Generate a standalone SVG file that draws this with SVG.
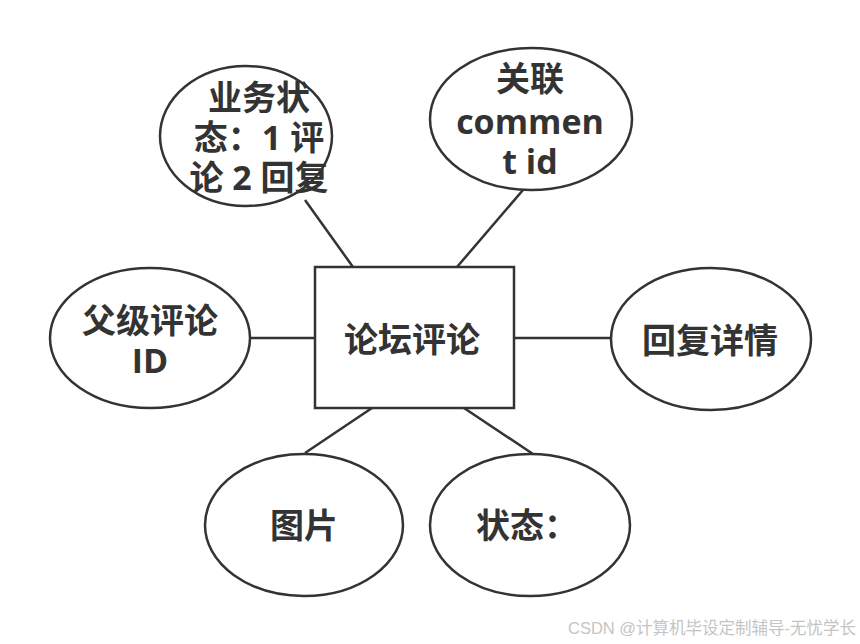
<svg xmlns="http://www.w3.org/2000/svg" width="860" height="644" viewBox="0 0 860 644">
<style>
.s{fill:#fff;stroke:#333;stroke-width:2.5}
.t{font-family:"Open Sans","Noto Sans CJK SC",sans-serif;font-weight:bold;font-size:34px;fill:#333;text-anchor:middle;dominant-baseline:central}
.c{stroke:#333;stroke-width:2.5;fill:none}
.w{font-family:"Liberation Sans","Noto Sans CJK SC",sans-serif;font-size:16.5px;fill:#c4c4c4}
</style>
<rect width="860" height="644" fill="#fff"/>
<g id="connectors">
<line class="c" x1="305" y1="200" x2="353" y2="267"/>
<line class="c" x1="523" y1="190" x2="457" y2="267"/>
<line class="c" x1="250" y1="338" x2="315" y2="338"/>
<line class="c" x1="514" y1="338" x2="611" y2="338"/>
<line class="c" x1="372" y1="408" x2="305" y2="453"/>
<line class="c" x1="464" y1="408" x2="536" y2="456"/>
</g>
<g id="main"><rect class="s" x="315" y="267" width="199" height="141"/><text class="t" x="412" y="339">论坛评论</text></g>
<g id="status-biz"><ellipse class="s" cx="246" cy="136" rx="86" ry="70"/><text class="t"><tspan x="259" y="97">业务状</tspan><tspan x="259" y="137">态：1 评</tspan><tspan x="259" y="177">论 2 回复</tspan></text></g>
<g id="comment-id"><ellipse class="s" cx="531" cy="119" rx="101" ry="71"/><text class="t"><tspan x="530" y="78">关联</tspan><tspan x="530" y="121">commen</tspan><tspan x="530" y="161">t id</tspan></text></g>
<g id="parent"><ellipse class="s" cx="150" cy="338" rx="100" ry="70"/><text class="t"><tspan x="150" y="320">父级评论</tspan><tspan x="150" y="360">ID</tspan></text></g>
<g id="reply"><ellipse class="s" cx="711" cy="339" rx="100" ry="71"/><text class="t" x="710" y="340">回复详情</text></g>
<g id="image"><ellipse class="s" cx="304" cy="525" rx="99" ry="71"/><text class="t" x="304" y="525">图片</text></g>
<g id="status"><ellipse class="s" cx="530" cy="525" rx="100" ry="71"/><text class="t" x="527" y="525">状态：</text></g>
<text class="w" x="568" y="634">CSDN @计算机毕设定制辅导-无忧学长</text>
</svg>
